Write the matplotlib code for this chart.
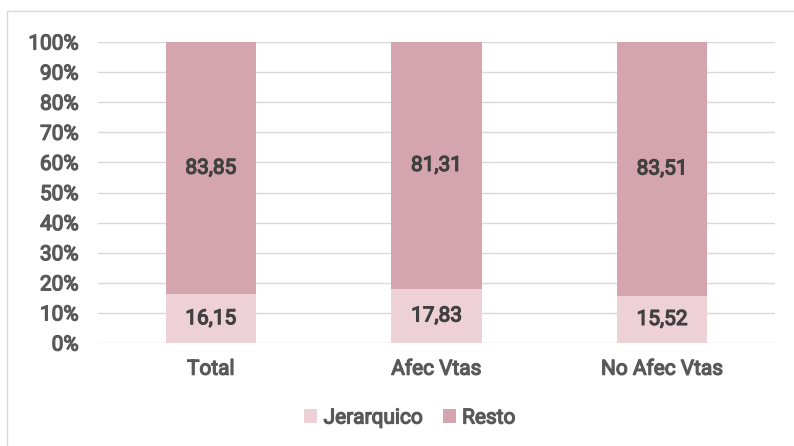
import matplotlib
matplotlib.use("Agg")
import matplotlib.pyplot as plt
import matplotlib.patheffects as pe
from matplotlib.patches import Rectangle
import numpy as np

categories = ['Total', 'Afec Vtas', 'No Afec Vtas']
jerarquico = [16.15, 17.83, 15.52]
resto = [83.85, 81.31, 83.51]

c_jer = '#edd1d7'
c_resto = '#d4a5ae'
txt = '#595959'
lbl = '#404040'

# Roboto here is a variable font without a bold face: thicken it with a stroke
plt.rcParams['font.family'] = ['Roboto', 'DejaVu Sans']
fs = 15

def bold(color):
    return [pe.withStroke(linewidth=0.9, foreground=color)]

jer = np.array(jerarquico)
res = np.array(resto)
tot = jer + res
jer_pct = jer / tot
res_pct = res / tot

fig = plt.figure(figsize=(7.94, 4.46), dpi=100)
fig.patches.append(Rectangle((7 / 794, -0.1), 1.2, 1 - 11 / 446 + 0.1,
                             transform=fig.transFigure, fill=False,
                             edgecolor='#d9d9d9', linewidth=1))
ax = fig.add_axes([98 / 794, 1 - 343 / 446, 677 / 794, 301 / 446])

x = np.arange(len(categories))
w = 0.4
b1 = ax.bar(x, jer_pct, w, color=c_jer, label='Jerarquico', zorder=3)
b2 = ax.bar(x, res_pct, w, bottom=jer_pct, color=c_resto, label='Resto', zorder=3)

for i in range(len(categories)):
    ax.text(x[i], jer_pct[i] / 2, f'{jer[i]:.2f}'.replace('.', ','),
            ha='center', va='center', fontsize=fs, color=lbl, path_effects=bold(lbl))
    ax.text(x[i], jer_pct[i] + res_pct[i] / 2, f'{res[i]:.2f}'.replace('.', ','),
            ha='center', va='center', fontsize=fs, color=lbl, path_effects=bold(lbl))

ax.set_xlim(-0.5, 2.5)
ax.set_ylim(0, 1)
ax.set_yticks(np.arange(0, 1.01, 0.1))
ax.set_yticklabels([f'{int(round(v * 100))}%' for v in np.arange(0, 1.01, 0.1)])
ax.set_xticks(x)
ax.set_xticklabels(categories)
ax.yaxis.grid(True, color='#d9d9d9', linewidth=1, zorder=0)
for s in ax.spines.values():
    s.set_visible(False)
ax.tick_params(axis='both', length=0, labelsize=fs, colors=txt)
ax.tick_params(axis='y', pad=14)
ax.tick_params(axis='x', pad=12)
for t in ax.get_xticklabels() + ax.get_yticklabels():
    t.set_path_effects(bold(txt))

leg = fig.legend(handles=[b1, b2], labels=['Jerarquico', 'Resto'], loc='center',
                 bbox_to_anchor=(410 / 794, 1 - 418 / 446), ncol=2, frameon=False,
                 fontsize=fs, labelcolor=txt, handlelength=0.62, handleheight=0.62,
                 handletextpad=0.3, columnspacing=0.95)
for t in leg.get_texts():
    t.set_path_effects(bold(txt))

fig.savefig('out.png', dpi=100)
